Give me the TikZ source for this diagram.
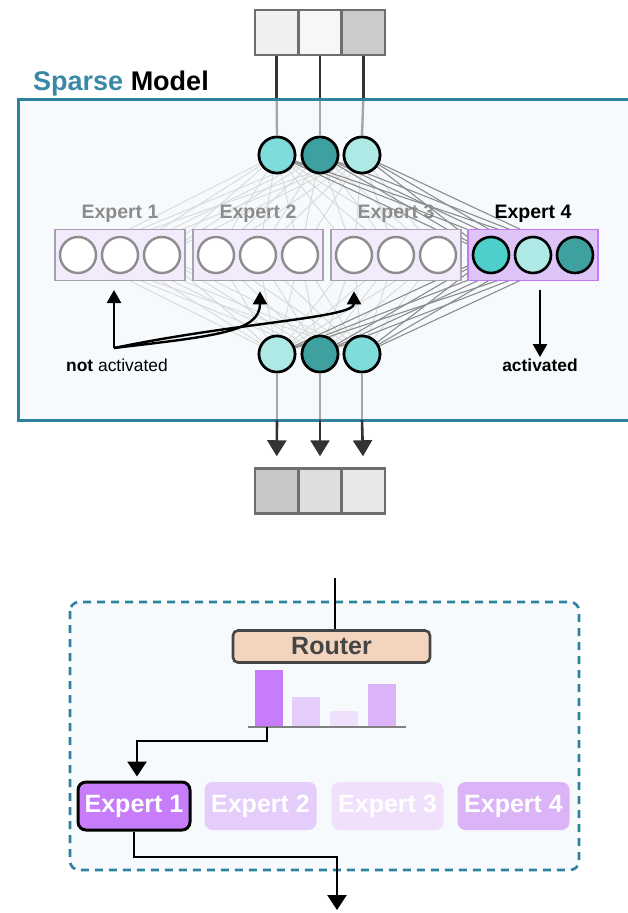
\documentclass[tikz,border=0pt]{standalone}
\usepackage{fontspec}
\setmainfont{Liberation Sans}
\usetikzlibrary{arrows.meta,calc}

\definecolor{frameblue}{HTML}{2F81A0}
\definecolor{sparseblue}{HTML}{3A88A8}
\definecolor{panel}{HTML}{F6FAFC}
\definecolor{tealA}{HTML}{7FDCDA}
\definecolor{tealB}{HTML}{3FA19F}
\definecolor{tealC}{HTML}{AEE9E6}
\definecolor{tealD}{HTML}{4ECFCB}
\definecolor{expfill}{HTML}{F1EBFB}
\definecolor{expdraw}{HTML}{A9A1AF}
\definecolor{expFfill}{HTML}{DEC3F6}
\definecolor{expFdraw}{HTML}{BF7AF5}
\definecolor{neurongray}{HTML}{8D8D8D}
\definecolor{labelgray}{HTML}{8C8C8C}
\definecolor{cellgray}{HTML}{6E6E6E}
\definecolor{routerfill}{HTML}{F3D5BF}
\definecolor{routerdraw}{HTML}{454545}
\definecolor{purA}{HTML}{C77DFA}
\definecolor{purB}{HTML}{E4CDFA}
\definecolor{purC}{HTML}{F0E0FC}
\definecolor{purD}{HTML}{DBB4F8}

\tikzset{
  cell/.style={draw=cellgray, line width=2.5pt, minimum width=43.3pt, minimum height=45pt, inner sep=0pt},
  neuron/.style={circle, draw=black, line width=2.6pt, minimum size=36pt, inner sep=0pt},
  idle/.style={circle, draw=neurongray, fill=white, line width=2.4pt, minimum size=36pt, inner sep=0pt},
  expbox/.style={draw=expdraw, fill=expfill, line width=1.6pt, minimum width=130pt, minimum height=51pt, inner sep=0pt},
  explabel/.style={font=\bfseries\fontsize{19.5}{22}\selectfont, text=labelgray},
  faint/.style={draw=black!15, line width=0.9pt},
  strong/.style={draw=black!45, line width=1.1pt},
  feed/.style={draw=black!80, line width=2.6pt},
  soft/.style={draw=black!35, line width=2.4pt},
  outarrow/.style={draw=black!80, line width=2.6pt, -{Triangle[length=16pt,width=19pt]}},
  pointer/.style={draw=black, line width=2.4pt, -{Triangle[length=13pt,width=14pt]}},
  flow/.style={draw=black, line width=2.8pt, -{Triangle[length=15pt,width=19pt]}},
  bar/.style={anchor=south, minimum width=28pt, inner sep=0pt},
  moe/.style={rounded corners=8pt, minimum width=112pt, minimum height=48pt, inner sep=0pt,
    text=white, font=\bfseries\fontsize{25}{28}\selectfont},
}

\begin{document}
\begin{tikzpicture}[x=1pt, y=-1pt]
\useasboundingbox (0,0) rectangle (628,913);

% ---------- sparse model panel ----------
\fill[panel] (18,99) rectangle (630,420);
\node[anchor=base west, font=\bfseries\fontsize{27}{30}\selectfont, inner sep=0pt] (title) at (33,90)
  {\textcolor{sparseblue}{Sparse} Model};

% input vector
\node[cell, fill=black!6]  (in1) at (276.7,32.5) {};
\node[cell, fill=black!3]  (in2) at (320,32.5) {};
\node[cell, fill=black!20] (in3) at (363.3,32.5) {};

% input neurons
\node[neuron, fill=tealA] (t1) at (277,155) {};
\node[neuron, fill=tealB] (t2) at (320,155) {};
\node[neuron, fill=tealC] (t3) at (362,155) {};

% output neurons
\node[neuron, fill=tealC] (b1) at (277,354) {};
\node[neuron, fill=tealB] (b2) at (320,354) {};
\node[neuron, fill=tealA] (b3) at (362,354) {};

% expert boxes and their neurons
\foreach \i/\x in {1/120, 2/258, 3/396} {
  \coordinate (c\i) at (\x,255);
}
\coordinate (c4) at (533,255);
\foreach \i in {1,...,4} {
  \foreach \j/\dx in {1/-42, 2/0, 3/42} {
    \coordinate (p\i\j) at ($(c\i)+(\dx,0)$);
  }
}

% dense wiring, drawn behind the boxes
\foreach \i in {1,2,3} {
  \foreach \j in {1,2,3} {
    \foreach \k in {1,2,3} {
      \draw[faint] (t\k) -- (p\i\j);
      \draw[faint] (b\k) -- (p\i\j);
    }
  }
}
\foreach \j in {1,2,3} {
  \foreach \k in {1,2,3} {
    \draw[strong] (t\k) -- (p4\j);
    \draw[strong] (b\k) -- (p4\j);
  }
}

\foreach \i in {1,2,3} {
  \node[expbox] (e\i) at (c\i) {};
  \node[idle] (n\i1) at (p\i1) {};
  \node[idle] (n\i2) at (p\i2) {};
  \node[idle] (n\i3) at (p\i3) {};
  \node[explabel] (l\i) at ($(c\i)+(0,-41)$) {Expert \i};
}
\node[expbox, draw=expFdraw, fill=expFfill] (e4) at (c4) {};
\node[neuron, fill=tealD] (n41) at (p41) {};
\node[neuron, fill=tealC] (n42) at (p42) {};
\node[neuron, fill=tealB] (n43) at (p43) {};
\node[explabel, text=black] (l4) at ($(c4)+(0,-41)$) {Expert 4};

% redraw the neurons above the wiring
\node[neuron, fill=tealA] at (t1) {};
\node[neuron, fill=tealB] at (t2) {};
\node[neuron, fill=tealC] at (t3) {};
\node[neuron, fill=tealC] at (b1) {};
\node[neuron, fill=tealB] at (b2) {};
\node[neuron, fill=tealA] at (b3) {};

% feeds into and out of the panel
\coordinate (ftop) at (0,99);
\coordinate (fbot) at (0,420);
\foreach \k in {1,2,3} {
  \draw[feed] (in\k.south) -- (in\k.south |- ftop);
  \draw[soft] (in\k.south |- ftop) -- (t\k.north);
  \draw[soft] (b\k.south) -- (b\k.south |- fbot);
}

% panel border
\draw[frameblue, line width=3pt] (630,99) -- (18,99) -- (18,420) -- (630,420);

% output vector
\node[cell, fill=black!22] (o1) at (276.7,491) {};
\node[cell, fill=black!13] (o2) at (320,491) {};
\node[cell, fill=black!9]  (o3) at (363.3,491) {};
\foreach \k in {1,2,3} {
  \draw[outarrow, shorten >=11pt] (b\k.south |- fbot) -- (o\k.north);
}

% activation annotations
\node[font=\fontsize{17.4}{20}\selectfont] (nota) at (117,365) {\textbf{not} activated};
\coordinate (na) at (114,348);
\draw[pointer] (na) -- (114,290);
\draw[pointer] (na) .. controls (215,336) and (260,332) .. ($(e2.south)+(2,10)$);
\draw[pointer] (na) .. controls (240,322) and (354,318) .. ($(e3.south)+(-42,10)$);
\node[font=\bfseries\fontsize{17.4}{20}\selectfont] (act) at (540,365) {activated};
\draw[pointer] (act.north |- e4.south) ++(0,9) -- ($(act.north)+(0,2)$);

% ---------- routing panel ----------
\draw[frameblue, line width=2.6pt, dash pattern=on 8pt off 6pt, fill=panel, rounded corners=9pt]
  (70,602) rectangle (579,870);

\node[draw=routerdraw, fill=routerfill, line width=2.6pt, rounded corners=5pt,
  minimum width=197pt, minimum height=32pt, inner sep=0pt,
  text=routerdraw, font=\bfseries\fontsize{25}{28}\selectfont] (router) at (331.5,646.5) {Router};
\coordinate (rin) at (335,578);
\draw[draw=black, line width=2.6pt] (rin) -- (rin |- router.north);

% routing weights
\node[bar, fill=purA, minimum height=57pt] (bar1) at (269,727) {};
\node[bar, fill=purB, minimum height=30pt] (bar2) at (306,727) {};
\node[bar, fill=purC, minimum height=16pt] (bar3) at (344,727) {};
\node[bar, fill=purD, minimum height=43pt] (bar4) at (382,727) {};
\coordinate (axl) at (248,727);
\coordinate (axr) at (406,727);
\draw[black!50, line width=2.2pt] (axl) -- (axr);

% experts
\node[moe, fill=purA, draw=black, line width=3pt] (x1) at (134,806) {Expert 1};
\node[moe, fill=purB] (x2) at (260.5,806) {Expert 2};
\node[moe, fill=purC] (x3) at (387.5,806) {Expert 3};
\node[moe, fill=purD] (x4) at (513.5,806) {Expert 4};

\coordinate (k1) at (267,741);
\draw[flow, shorten >=4pt] (bar1.south -| k1) -- (k1) -| ($(x1.north)+(3,0)$);
\coordinate (k2) at (337,857);
\coordinate (out) at (337,910);
\draw[flow] (x1.south) |- (k2) -- (out);
\end{tikzpicture}
\end{document}
